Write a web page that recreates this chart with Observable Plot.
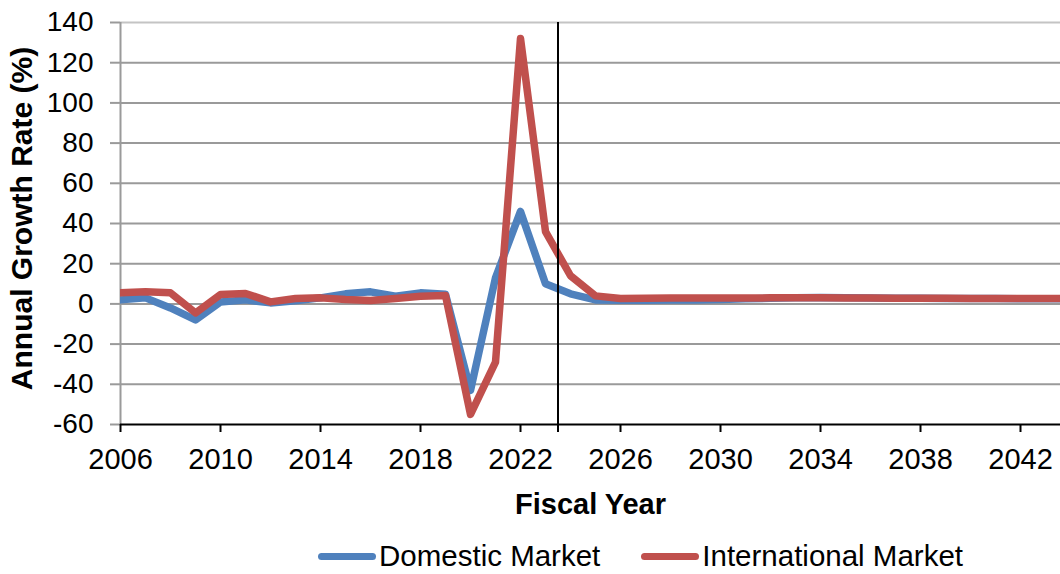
<!DOCTYPE html>
<html>
<head>
<meta charset="utf-8">
<script src="https://cdn.jsdelivr.net/npm/d3@7"></script>
<script src="https://cdn.jsdelivr.net/npm/@observablehq/plot@0.6"></script>
<style>
  html, body { margin: 0; padding: 0; background: #fff; }
  body { width: 1060px; height: 574px; position: relative; overflow: hidden;
         font-family: "Liberation Sans", Arial, sans-serif; }
  #legend { position: absolute; left: 318px; top: 538px; display: flex; align-items: center;
            font-size: 29.5px; color: #000; line-height: 36px; white-space: nowrap; }
  .item { display: flex; align-items: center; }
  .swatch { width: 58px; height: 7px; border-radius: 4px; margin-right: 3px; }
</style>
</head>
<body>
<div id="chart"></div>
<div id="legend"></div>
<script>
// Fiscal years and annual growth rates (%)
const years = d3.range(2006, 2045);
const domestic = [
  2, 3, -2, -8, 1, 2, 0.5, 1.5, 3, 5,
  6, 3.8, 5.5, 4.8, -43, 13, 46, 10, 5, 2,
  1.8, 1.8, 1.9, 2.0, 2.2, 2.5, 2.8, 3.1, 3.2, 3.0,
  2.9, 2.8, 2.8, 2.7, 2.7, 2.7, 2.6, 2.6, 2.6
];
const international = [
  5.5, 6, 5.5, -4.5, 4.7, 5.2, 1, 2.7, 3, 2.2,
  1.7, 2.7, 3.8, 4.2, -55, -29, 132, 36, 14, 4,
  2.7, 2.8, 2.9, 2.9, 2.9, 2.9, 3.0, 3.0, 3.0, 2.9,
  2.9, 2.8, 2.8, 2.8, 2.7, 2.7, 2.7, 2.7, 2.7
];
const seriesNames = ["Domestic Market", "International Market"];
const seriesColors = ["#4F81BD", "#C0504D"];
const xTicks = [2006, 2010, 2014, 2018, 2022, 2026, 2030, 2034, 2038, 2042];
const yTicks = [-60, -40, -20, 0, 20, 40, 60, 80, 100, 120, 140];
const forecastStart = 2023.5;

const rows = [
  ...years.map((year, i) => ({year, value: domestic[i], series: seriesNames[0]})),
  ...years.map((year, i) => ({year, value: international[i], series: seriesNames[1]}))
];

const chart = Plot.plot({
  width: 1060,
  height: 520,
  marginTop: 22,
  marginLeft: 120,
  marginRight: 0,
  marginBottom: 96,
  style: {fontFamily: "'Liberation Sans', Arial, sans-serif", fontSize: "29px", color: "#000", background: "#fff"},
  x: {domain: [2006, 2043.6], label: null},
  y: {domain: [-60, 140], label: null},
  color: {domain: seriesNames, range: seriesColors},
  marks: [
    Plot.ruleY(yTicks.filter(v => v > -60 && v < 140), {stroke: "#9a9a9a", strokeWidth: 2}),
    Plot.ruleY([140], {stroke: "#c4c4c4", strokeWidth: 2}),
    Plot.ruleX([2006], {stroke: "#9a9a9a", strokeWidth: 2}),
    Plot.axisY({ticks: yTicks, tickSize: 10, tickPadding: 17, stroke: "#9a9a9a", strokeWidth: 2,
                fill: "#000", fontSize: 28, tickFormat: d => String(d), label: null}),
    Plot.ruleY([-60], {stroke: "#000", strokeWidth: 2}),
    Plot.axisX({ticks: xTicks, tickSize: 8, tickPadding: 16, stroke: "#000", strokeWidth: 2,
                fill: "#000", fontSize: 29, tickFormat: d => String(d), label: null}),
    Plot.line(rows.filter(d => d.series === seriesNames[0]), {
      x: "year", y: "value", stroke: "series", strokeWidth: 7.5, strokeLinejoin: "round", strokeLinecap: "round", clip: true
    }),
    Plot.line(rows.filter(d => d.series === seriesNames[1]), {
      x: "year", y: "value", stroke: "series", strokeWidth: 7.5, strokeLinejoin: "round", strokeLinecap: "round", clip: true
    }),
    Plot.ruleX([forecastStart], {stroke: "#000", strokeWidth: 2, insetBottom: -8}),
    Plot.text(["Fiscal Year"], {frameAnchor: "bottom", lineAnchor: "top", dy: 69,
                                fontWeight: "bold", fontSize: 29, fill: "#000"}),
    Plot.text(["Annual Growth Rate (%)"], {frameAnchor: "left", textAnchor: "middle", lineAnchor: "top",
                                           rotate: -90, dx: -110, dy: -5, fontWeight: "bold", fontSize: 30, fill: "#000"})
  ]
});
document.getElementById("chart").appendChild(chart);

// Legend below the chart
const legend = d3.select("#legend");
seriesNames.forEach((name, i) => {
  const item = legend.append("div").attr("class", "item").style("margin-right", i === 0 ? "41px" : "0");
  item.append("div").attr("class", "swatch").style("background", seriesColors[i]);
  item.append("span").text(name);
});
</script>
</body>
</html>
